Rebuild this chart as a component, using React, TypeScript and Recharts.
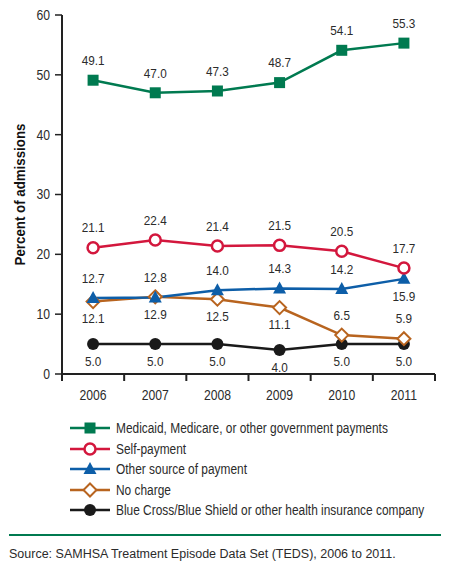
import { LineChart, Line, XAxis, YAxis, Legend, LabelList } from "recharts";

const years = ["2006", "2007", "2008", "2009", "2010", "2011"];
const medicaid = [49.1, 47.0, 47.3, 48.7, 54.1, 55.3];
const selfPay = [21.1, 22.4, 21.4, 21.5, 20.5, 17.7];
const otherSource = [12.7, 12.8, 14.0, 14.3, 14.2, 15.9];
const noCharge = [12.1, 12.9, 12.5, 11.1, 6.5, 5.9];
const blueCross = [5.0, 5.0, 5.0, 4.0, 5.0, 5.0];
const yTicks = [0, 10, 20, 30, 40, 50, 60];

// which value labels sit under their point
const medicaidBelow = [false, false, false, false, false, false];
const selfPayBelow = [false, false, false, false, false, false];
const otherBelow = [false, false, false, false, false, true];
const noChargeBelow = [true, true, true, true, false, false];
const blueCrossBelow = [true, true, true, true, true, true];

const data = years.map((year, i) => ({
  year,
  medicaid: medicaid[i],
  selfPay: selfPay[i],
  otherSource: otherSource[i],
  noCharge: noCharge[i],
  blueCross: blueCross[i],
}));

const FONT = 'Arial, "Liberation Sans", sans-serif';
const TEXT = "#2b2b2b";
// no condensed face installed, so squeeze Arial horizontally
const SQUEEZE = 0.87;

type Shape = "square" | "circle" | "triangle" | "diamond" | "dot";

const series: {
  key: string;
  name: string;
  color: string;
  shape: Shape;
  below: boolean[];
}[] = [
  { key: "blueCross", name: "Blue Cross/Blue Shield or other health insurance company", color: "#1a1a1a", shape: "dot", below: blueCrossBelow },
  { key: "noCharge", name: "No charge", color: "#b8641f", shape: "diamond", below: noChargeBelow },
  { key: "otherSource", name: "Other source of payment", color: "#0d5ea8", shape: "triangle", below: otherBelow },
  { key: "selfPay", name: "Self-payment", color: "#d3173d", shape: "circle", below: selfPayBelow },
  { key: "medicaid", name: "Medicaid, Medicare, or other government payments", color: "#007a50", shape: "square", below: medicaidBelow },
];

const legendOrder = ["medicaid", "selfPay", "otherSource", "noCharge", "blueCross"];

function NarrowText({
  x,
  y,
  anchor = "middle",
  size = 14,
  children,
}: {
  x: number;
  y: number;
  anchor?: "start" | "middle" | "end";
  size?: number;
  children: any;
}) {
  return (
    <text
      transform={`translate(${x},${y}) scale(${SQUEEZE},1)`}
      dy="0.35em"
      textAnchor={anchor}
      fontSize={size}
      fill={TEXT}
      fontFamily={FONT}
    >
      {children}
    </text>
  );
}

function Marker({ cx, cy, shape, color }: { cx: number; cy: number; shape: Shape; color: string }) {
  if (shape === "square")
    return <rect x={cx - 5.5} y={cy - 5.5} width={11} height={11} fill={color} />;
  if (shape === "circle")
    return <circle cx={cx} cy={cy} r={5.5} fill="#fff" stroke={color} strokeWidth={2.5} />;
  if (shape === "triangle")
    return <path d={`M${cx},${cy - 7} L${cx + 6.5},${cy + 5} L${cx - 6.5},${cy + 5} Z`} fill={color} />;
  if (shape === "diamond")
    return (
      <path
        d={`M${cx},${cy - 6.5} L${cx + 6.5},${cy} L${cx},${cy + 6.5} L${cx - 6.5},${cy} Z`}
        fill="#fff"
        stroke={color}
        strokeWidth={2}
      />
    );
  return <circle cx={cx} cy={cy} r={6} fill={color} />;
}

function XTick({ x, y, payload, index }: any) {
  const half = payload?.offset ?? 31;
  return (
    <g>
      <line x1={x - half} x2={x - half} y1={y} y2={y + 7} stroke="#222" strokeWidth={2} />
      {index === years.length - 1 && (
        <line x1={x + half} x2={x + half} y1={y} y2={y + 7} stroke="#222" strokeWidth={2} />
      )}
      <NarrowText x={x} y={y + 21}>{payload.value}</NarrowText>
    </g>
  );
}

function YTick({ x, y, payload }: any) {
  return (
    <NarrowText x={x} y={y} anchor="end">
      {payload.value}
    </NarrowText>
  );
}

function makeLabel(below: boolean[]) {
  return (props: any) => {
    const { x, y, value, index } = props;
    return (
      <NarrowText x={x} y={y + (below[index] ? 17 : -20)} size={13.5}>
        {Number(value).toFixed(1)}
      </NarrowText>
    );
  };
}

function LegendContent() {
  return (
    <div style={{ fontFamily: FONT, fontSize: 14, color: TEXT, whiteSpace: "nowrap" }}>
      {legendOrder.map((k) => {
        const s = series.find((d) => d.key === k)!;
        return (
          <div key={k} style={{ display: "flex", alignItems: "center", height: 20.5 }}>
            <svg width={42} height={16} style={{ marginRight: 4, flex: "none" }}>
              <line x1={0} x2={40} y1={8} y2={8} stroke={s.color} strokeWidth={2.5} />
              <Marker cx={20} cy={8} shape={s.shape} color={s.color} />
            </svg>
            <span style={{ display: "inline-block", transform: "scaleX(0.85)", transformOrigin: "left center" }}>
              {s.name}
            </span>
          </div>
        );
      })}
    </div>
  );
}

function YTitle({ viewBox }: any) {
  const cy = viewBox.y + viewBox.height / 2;
  return (
    <text
      transform={`translate(20,${cy}) rotate(-90) scale(0.95,1)`}
      textAnchor="middle"
      dy="0.35em"
      fontSize={14}
      fontWeight="bold"
      fill="#111"
      fontFamily={FONT}
    >
      Percent of admissions
    </text>
  );
}

export default function App() {
  return (
    <div style={{ position: "relative", width: 450, height: 570, margin: -8, background: "#fff" }}>
      <LineChart
        width={450}
        height={525}
        data={data}
        margin={{ top: 15, right: 15, left: 0, bottom: 121 }}
      >
        <XAxis
          dataKey="year"
          scale="band"
          height={30}
          axisLine={{ stroke: "#222", strokeWidth: 2 }}
          tickLine={false}
          tickSize={0}
          tickMargin={0}
          tick={<XTick />}
          interval={0}
        />
        <YAxis
          domain={[0, 60]}
          ticks={yTicks}
          width={62}
          axisLine={{ stroke: "#222", strokeWidth: 2 }}
          tickLine={{ stroke: "#222", strokeWidth: 1.5 }}
          tickSize={7}
          tickMargin={5}
          tick={<YTick />}
          label={{ content: (p: any) => <YTitle {...p} /> }}
        />
        <Legend
          layout="vertical"
          align="center"
          verticalAlign="middle"
          wrapperStyle={{ top: 418, left: 70, width: 380 }}
          content={<LegendContent />}
        />
        {series.map((s) => (
          <Line
            key={s.key}
            dataKey={s.key}
            name={s.name}
            stroke={s.color}
            strokeWidth={2.5}
            isAnimationActive={false}
            dot={(p: any) => <Marker key={`${s.key}-${p.index}`} cx={p.cx} cy={p.cy} shape={s.shape} color={s.color} />}
            activeDot={false}
          >
            <LabelList dataKey={s.key} content={makeLabel(s.below)} />
          </Line>
        ))}
      </LineChart>
      <div style={{ position: "absolute", left: 9, top: 534, width: 432, height: 2, background: "#007a50" }} />
      <div
        style={{
          position: "absolute",
          left: 9,
          top: 547,
          fontFamily: FONT,
          fontSize: 12.5,
          color: TEXT,
          whiteSpace: "nowrap",
        }}
      >
        Source: SAMHSA Treatment Episode Data Set (TEDS), 2006 to 2011.
      </div>
    </div>
  );
}
